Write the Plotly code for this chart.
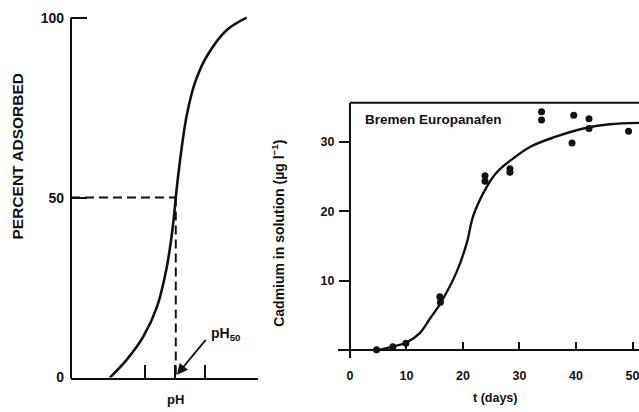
import plotly.graph_objects as go

W, H = 639, 412

# ---- Left panel: generic adsorption edge (percent adsorbed vs pH) ----
edge_ph = [1.31, 1.88, 2.43, 2.89, 3.22, 3.42, 3.53, 3.58, 3.73, 3.90, 4.18, 4.57, 5.24, 5.92]
edge_pct = [0.0, 5.0, 11.3, 19.5, 30.4, 41.2, 50.0, 53.9, 63.9, 72.9, 82.0, 89.2, 96.5, 100.0]
ph50 = 3.53
half_pct = 50
ph_ticks = [2.5, 3.5, 4.5]
pct_ticks = [0, 50, 100]

# ---- Right panel: cadmium release, Bremen Europahafen sediment ----
fit_t = [5, 7, 10, 12.4, 14.2, 15.9, 18.9, 20.7, 21.8, 24.2, 26, 28.9, 32, 36, 41.9, 46, 51.2]
fit_cd = [0.0, 0.4, 1.1, 2.5, 4.6, 6.6, 11.3, 15.5, 19.3, 23.5, 25.6, 27.6, 29.3, 30.6, 32.0, 32.5, 32.7]
obs_t = [4.7, 7.6, 9.9, 15.9, 16.0, 23.9, 23.9, 28.3, 28.3, 33.9, 33.9, 39.3, 39.6, 42.3, 42.3, 49.3]
obs_cd = [0.05, 0.5, 1.0, 7.7, 6.9, 25.1, 24.3, 26.1, 25.6, 34.3, 33.1, 29.8, 33.8, 33.3, 31.9, 31.5]
t_ticks = [0, 10, 20, 30, 40, 50]
cd_ticks = [10, 20, 30]


def px(x):
    return x / W


def py(y):
    return 1 - y / H


INK = "#111111"
FONT = "Liberation Sans"

fig = go.Figure()

# adsorption edge curve
fig.add_trace(go.Scatter(
    x=edge_ph, y=edge_pct, mode="lines", line=dict(color=INK, width=2.6, shape="spline", smoothing=1.0),
    xaxis="x", yaxis="y", showlegend=False, hoverinfo="skip"))
# dashed guides to the 50 % point
fig.add_trace(go.Scatter(
    x=[0, ph50], y=[half_pct, half_pct], mode="lines", line=dict(color=INK, width=2, dash="9px,5px"),
    xaxis="x", yaxis="y", showlegend=False, hoverinfo="skip"))
fig.add_trace(go.Scatter(
    x=[ph50, ph50], y=[half_pct, 0], mode="lines", line=dict(color=INK, width=2, dash="9px,5px"),
    xaxis="x", yaxis="y", showlegend=False, hoverinfo="skip"))

# cadmium fitted curve and observations
fig.add_trace(go.Scatter(
    x=fit_t, y=fit_cd, mode="lines", line=dict(color=INK, width=2.4, shape="spline", smoothing=1.0),
    xaxis="x2", yaxis="y2", showlegend=False, hoverinfo="skip"))
fig.add_trace(go.Scatter(
    x=obs_t, y=obs_cd, mode="markers", marker=dict(color=INK, size=7),
    xaxis="x2", yaxis="y2", showlegend=False, cliponaxis=False))

bold = dict(family=FONT, color=INK, weight="bold")

fig.update_layout(
    width=W, height=H, margin=dict(l=0, r=0, t=0, b=0),
    paper_bgcolor="white", plot_bgcolor="white",
    xaxis=dict(
        domain=[px(71), px(258)], range=[0, 6.3], anchor="y",
        showline=True, linewidth=2, linecolor=INK, showgrid=False, zeroline=False,
        ticks="inside", ticklen=13, tickwidth=1.6, tickcolor=INK,
        tickvals=ph_ticks, showticklabels=False),
    yaxis=dict(
        domain=[py(385), py(385 - 102 * 3.68)], range=[0, 102], anchor="x",
        showline=False, showgrid=False, zeroline=False,
        ticks="inside", ticklen=16, tickwidth=2, tickcolor=INK,
        tickvals=pct_ticks, ticktext=[str(v) for v in pct_ticks],
        tickfont=dict(size=14, **bold), ticklabelstandoff=6),
    xaxis2=dict(
        domain=[px(338), 1], range=[-2.12, 51.15], anchor="free", position=py(357),
        showline=True, linewidth=2, linecolor=INK, showgrid=False, zeroline=False,
        ticks="inside", ticklen=7, tickwidth=1.6, tickcolor=INK,
        tickvals=t_ticks, ticktext=[str(v) for v in t_ticks], ticklabeloverflow="allow",
        tickfont=dict(size=12.5, **bold), ticklabelstandoff=14),
    yaxis2=dict(
        domain=[py(364.8), py(104)], range=[-1.1, 35.6], anchor="free", position=px(350),
        showline=True, linewidth=2, linecolor=INK, showgrid=False, zeroline=False,
        ticks="outside", ticklen=10, tickwidth=2, tickcolor=INK,
        tickvals=cd_ticks, ticktext=[str(v) for v in cd_ticks],
        tickfont=dict(size=12.5, **bold), ticklabelstandoff=2),
)

# left y-axis line (0 to 100 only) and top frame line of the right panel
fig.add_shape(type="line", xref="paper", yref="paper", x0=px(71), x1=px(71),
              y0=py(386), y1=py(17), line=dict(color=INK, width=2))
fig.add_shape(type="line", xref="paper", yref="paper", x0=px(350), x1=1,
              y0=py(104), y1=py(104), line=dict(color=INK, width=2))

# pH50 pointer
fig.add_annotation(x=ph50 + 0.04, y=0.8, ax=4.58, ay=10.9, xref="x", yref="y", axref="x", ayref="y",
                   text="", showarrow=True, arrowhead=2, arrowsize=1.2, arrowwidth=1.8, arrowcolor=INK)

texts = [
    dict(text="PERCENT ADSORBED", x=px(18), y=py(159), textangle=-90, size=15.5),
    dict(text="pH", x=px(175), y=py(407), textangle=0, size=13),
    dict(text="pH<sub>50</sub>", x=px(226), y=py(340), textangle=0, size=14),
    dict(text="Cadmium in solution (µg l<sup>−1</sup>)", x=px(278), y=py(238), textangle=-90, size=14),
    dict(text="t (days)", x=px(495), y=py(406), textangle=0, size=12.5),
]
for t in texts:
    fig.add_annotation(text=t["text"], x=t["x"], y=t["y"], xref="paper", yref="paper",
                       xanchor="center", yanchor="middle", textangle=t["textangle"],
                       showarrow=False, font=dict(size=t["size"], **bold))

fig.add_annotation(text="Bremen Europanafen", x=px(363), y=py(121), xref="paper", yref="paper",
                   xanchor="left", yanchor="middle", showarrow=False,
                   font=dict(size=13.5, family=FONT, color=INK, weight="bold"))

fig.write_html("out.html")
